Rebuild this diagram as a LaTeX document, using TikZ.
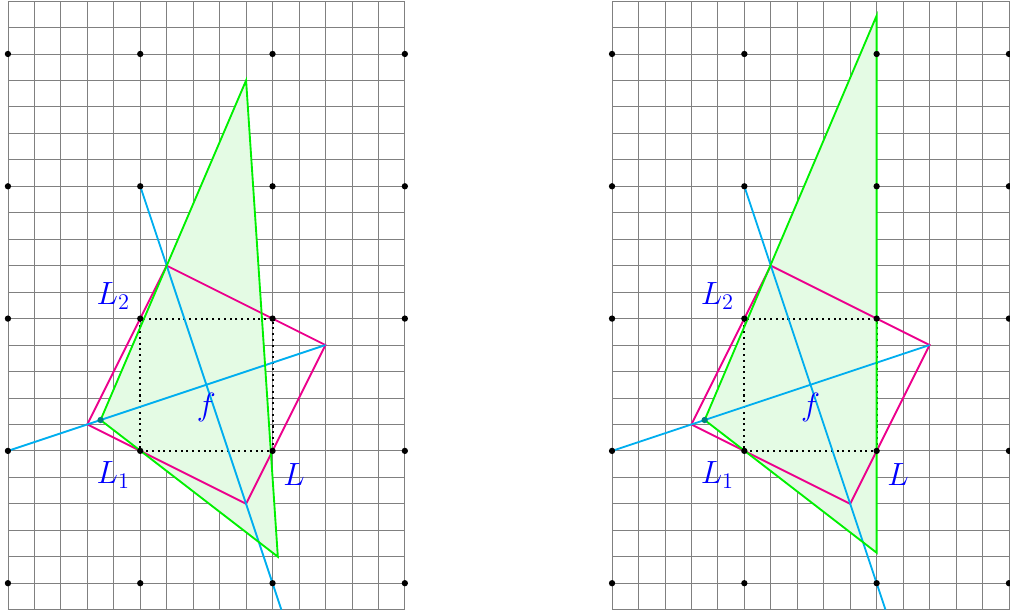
\documentclass[tikz,border=0pt]{standalone}
\usepackage{xcolor}
\usepackage{amsmath}
\usepackage{tikz}
\usetikzlibrary{positioning}
\definecolor{cianrecta}{HTML}{00AEEF}
\definecolor{magentacuad}{HTML}{EC008C}
\definecolor{verdetri}{HTML}{00F000}
\definecolor{verdeclaro}{HTML}{E4FBE4}

\begin{document}
\begin{tikzpicture}[x=0.5cm, y=0.5cm,
  rejilla/.style={draw=gray, line width=0.45pt},
  punto/.style={circle, fill=black, inner sep=0pt, minimum size=3.4pt},
  vertice/.style={circle, fill=teal, inner sep=0pt, minimum size=3.4pt},
  cuadro/.style={draw=black, line width=1.1pt, dotted},
  rombo/.style={draw=magentacuad, line width=1pt},
  recta/.style={draw=cianrecta, line width=1pt},
  tri/.style={draw=verdetri, line width=1pt},
  trifondo/.style={fill=verdeclaro},
  etiq/.style={text=blue, font=\LARGE}
]
\useasboundingbox (-0.3,-0.15) rectangle (37.87,23.04);

% triangulos
\coordinate (aA) at (3.5,7.1667);
\coordinate (aB) at (9,20);
\coordinate (aC) at (10.2,2);
\begin{scope}[shift={(22.83,0)}]
  \coordinate (bA) at (3.5,7.1667);
  \coordinate (bB) at (10,22.45);
  \coordinate (bC) at (10,2.15);
\end{scope}

\foreach \p/\dx in {a/0, b/22.83} {
\begin{scope}[shift={(\dx,0)}]
  \draw[rejilla, step=0.5cm] (0,0) grid (15,23);
  \fill[trifondo] (\p A) -- (\p B) -- (\p C) -- cycle;
  \coordinate (\p L1) at (5,6);
  \coordinate (\p L) at (10,6);
  \coordinate (\p M) at (10,11);
  \coordinate (\p L2) at (5,11);
  \coordinate (\p P) at (3,7);
  \coordinate (\p Q) at (6,13);
  \coordinate (\p R) at (12,10);
  \coordinate (\p S) at (9,4);
  \coordinate (\p O) at (7.5,8.5);
  \coordinate (\p E) at (0,6);
  \coordinate (\p N) at (5,16);
  \coordinate (\p D) at (10.333,0);
  \draw[cuadro] (\p L1) -- (\p L) -- (\p M) -- (\p L2) -- cycle;
  \draw[rombo] (\p P) -- (\p Q) -- (\p R) -- (\p S) -- cycle;
  \draw[recta] (\p E) -- (\p R);
  \draw[recta] (\p N) -- (\p D);
  \draw[tri] (\p A) -- (\p B) -- (\p C) -- cycle;
  \foreach \i in {0,5,10,15}
    \foreach \j in {1,6,11,16,21}
      \node[punto] (\p pt\i-\j) at (\i,\j) {};
  \node[vertice] (\p va) at (\p A) {};
  \node[etiq, above left=0.05cm and 0.07cm of \p L2] (\p tL2) {$L_2$};
  \node[etiq, below left=0.08cm and 0.07cm of \p L1] (\p tL1) {$L_1$};
  \node[etiq, below right=0.12cm and 0.08cm of \p L] (\p tL) {$L$};
  \node[etiq, below=0.04cm of \p O] (\p tf) {$f$};
\end{scope}
}
\end{tikzpicture}
\end{document}
